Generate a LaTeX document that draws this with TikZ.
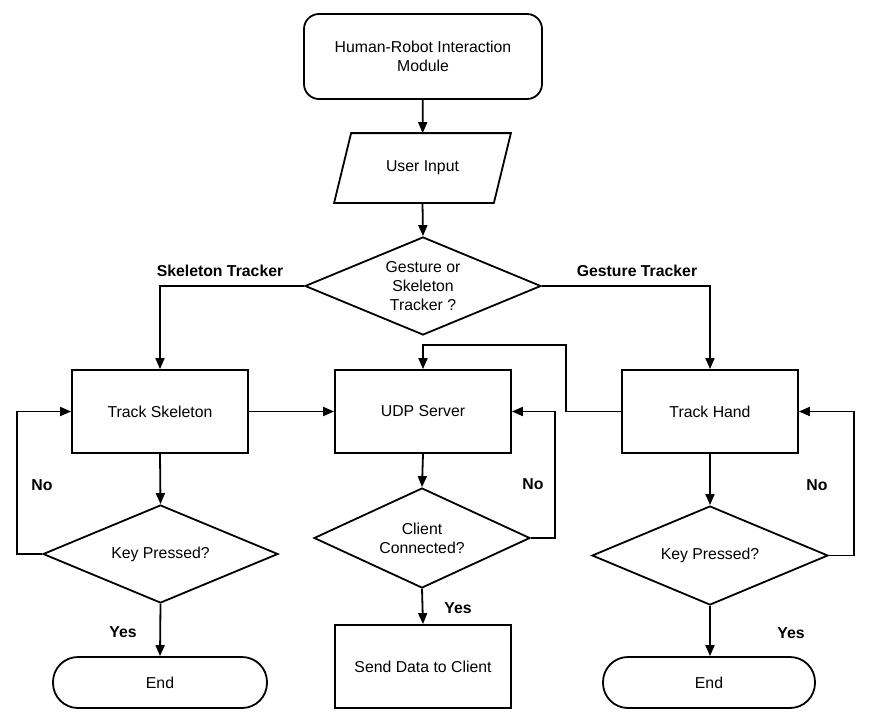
\documentclass[tikz,border=0pt]{standalone}
\usepackage{fontspec}
\setmainfont{Liberation Sans}
\usetikzlibrary{shapes.geometric,arrows.meta}
\tikzset{
  base/.style={draw, line width=1.8pt, align=center, inner sep=0pt,
    font=\fontsize{15.8}{19}\selectfont},
  procbox/.style={base, rectangle, minimum width=176pt, minimum height=83pt},
  startbox/.style={base, rectangle, rounded corners=15pt, minimum width=238pt, minimum height=85pt},
  iobox/.style={base, draw=none, rectangle, minimum width=175pt, minimum height=68pt},
  iooutline/.style={line width=1.8pt, line join=miter},
  decision/.style={base, diamond, shape aspect=2.4},
  termbox/.style={base, rectangle, rounded corners=25pt, minimum height=51pt},
  arr/.style={line width=1.8pt, -{Triangle[length=11pt,width=9pt]}},
  lbl/.style={font=\fontsize{15.8}{19}\selectfont\bfseries, inner sep=0pt},
}
\begin{document}
\begin{tikzpicture}[x=1pt,y=-1pt]
\useasboundingbox (0,0) rectangle (872,720);
\fill[white] (0,0) rectangle (872,720);

\node[startbox] (hri) at (423,56.5) {Human-Robot Interaction\\Module};
\node[iobox] (ui) at (422.5,168) {User Input};
\draw[iooutline] ([xshift=17pt]ui.north west) -- (ui.north east)
  -- ([xshift=-17pt]ui.south east) -- (ui.south west) -- cycle;
\node[decision, minimum width=236pt, minimum height=98pt] (gs) at (423,286) {Gesture or\\Skeleton\\Tracker ?};

\node[procbox] (ts) at (160,411.5) {Track Skeleton};
\node[procbox] (udp) at (423,411.5) {UDP Server};
\node[procbox] (th) at (710,411.5) {Track Hand};

\node[decision, minimum width=235pt, minimum height=98pt] (k1) at (160.5,554) {Key Pressed?};
\node[decision, minimum width=216pt, minimum height=100pt] (cc) at (422,538) {Client\\Connected?};
\node[decision, minimum width=236pt, minimum height=99pt] (k2) at (710,555.5) {Key Pressed?};

\node[termbox, minimum width=214pt] (e1) at (160,682.5) {End};
\node[procbox] (sd) at (423,666.5) {Send Data to Client};
\node[termbox, minimum width=212pt] (e2) at (709,682.5) {End};

\coordinate (lt) at (566,345);
\coordinate (l1) at (17,480);
\coordinate (l2) at (555,480);
\coordinate (l3) at (854,480);

\draw[arr] (hri) -- (ui);
\draw[arr] (ui.south) -- (gs.north);
\draw[arr] (gs.west) -| (ts.north);
\draw[arr] (gs.east) -| (th.north);
\draw[arr] (ts.east) -- (udp.west);
\draw[arr] (th.west) -| (lt) -| (udp.north);
\draw[arr] (ts.south) -- (k1.north);
\draw[arr] (udp.south) -- (cc.north);
\draw[arr] (th.south) -- (k2.north);
\draw[arr] (k1.west) -| (l1) |- (ts.west);
\draw[arr] (cc.east) -| (l2) |- (udp.east);
\draw[arr] (k2.east) -| (l3) |- (th.east);
\draw[arr] (k1.south) -- (e1.north);
\draw[arr] (cc.south) -- (sd.north);
\draw[arr] (k2.south) -- (e2.north -| k2.south);

\node[lbl] (lskel) at (220,271) {Skeleton Tracker};
\node[lbl] (lgest) at (637,271) {Gesture Tracker};
\node[lbl] (no1) at (42,485) {No};
\node[lbl] (no2) at (533,484) {No};
\node[lbl] (no3) at (817,485) {No};
\node[lbl] (yes1) at (123,632) {Yes};
\node[lbl] (yes2) at (458,608) {Yes};
\node[lbl] (yes3) at (791,633) {Yes};
\end{tikzpicture}
\end{document}
